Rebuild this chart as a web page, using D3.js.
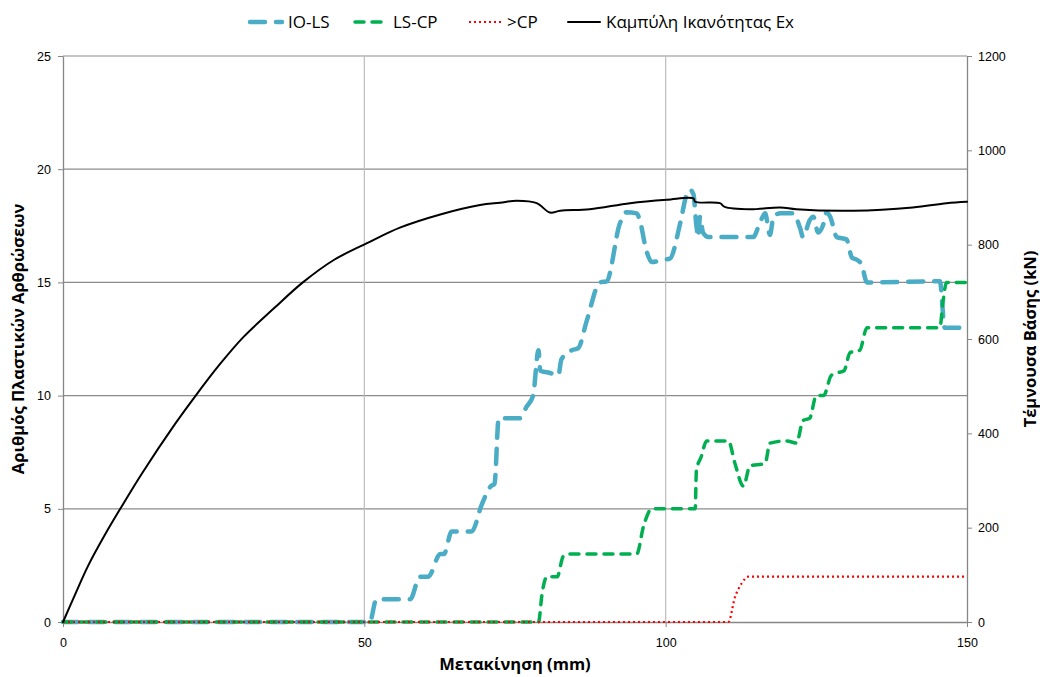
<!DOCTYPE html>
<html>
<head>
<meta charset="utf-8">
<script src="https://cdn.jsdelivr.net/npm/d3@7"></script>
<style>
  html, body { margin: 0; padding: 0; background: #fff; }
  svg { display: block; font-family: "Open Sans", "Noto Sans", sans-serif; }
</style>
</head>
<body>
<svg id="chart" width="1040" height="677"></svg>
<script>
// Plastic hinge counts per performance level (left axis) vs roof displacement (mm)
const ioX = [0, 50.9, 52.0, 57.6, 59.2, 60.6, 62.6, 63.2, 64.5, 67.8, 69.5, 71.0, 71.6, 72.3, 75.8, 76.9, 78.0, 78.9, 79.2, 80.8, 82.2, 82.7, 84.4, 85.5, 86.9, 89.1, 90.2, 92.4, 93.5, 95.2, 95.7, 96.8, 97.7, 99.6, 100.7, 102.4, 103.5, 104.0, 104.6, 105.1, 105.4, 105.7, 106.2, 107.1, 114.5, 115.6, 116.5, 117.3, 117.9, 119.0, 121.2, 122.3, 122.8, 123.9, 124.5, 125.3, 126.2, 126.7, 127.3, 128.4, 130.0, 130.9, 131.7, 132.5, 133.4, 145.5, 146.3, 149.1];
const ioY = [0, 0, 1, 1, 2, 2, 3, 3, 4, 4, 5.2, 6, 6.1, 9, 9, 9.5, 10, 12, 11.1, 11, 10.9, 11.6, 12, 12.1, 13.3, 15, 15.05, 17.6, 18.1, 18.05, 17.75, 16.4, 15.9, 16, 16.05, 17.6, 18.9, 19.1, 18.9, 17.5, 17.0, 17.9, 17.2, 17, 17, 17.6, 18.05, 17.1, 17.9, 18.05, 18.05, 17.4, 17, 17.75, 17.9, 17.2, 17.6, 18.1, 17.9, 17, 16.9, 16.1, 16, 15.8, 15, 15.05, 13, 13];

const lsX = [0, 78.9, 79.5, 80.3, 82.0, 83.0, 83.9, 95.2, 96.3, 97.7, 104.9, 105.1, 105.9, 106.8, 110.4, 111.5, 112.9, 114.0, 116.5, 117.3, 120.1, 121.7, 122.8, 123.9, 125.0, 126.2, 127.5, 128.4, 129.6, 130.6, 132.2, 133.4, 145.5, 146.0, 146.6, 150];
const lsY = [0, 0, 1.27, 2, 2, 2.9, 3, 3, 4.2, 5, 5, 6.7, 7.3, 8, 8, 7, 6, 6.9, 7, 7.9, 8, 7.9, 8.9, 9, 10, 10, 10.9, 11, 11.1, 11.9, 12, 13, 13, 14.1, 15, 15];

const cpX = [0, 110.4, 111.5, 112.6, 113.7, 150];
const cpY = [0, 0, 1.1, 1.7, 2, 2];

// Capacity (pushover) curve: base shear in kN (right axis)
const capX = [0, 2, 4.2, 7, 9.5, 13.1, 18.6, 21.9, 26, 30, 35, 39.8, 45, 50.9, 55.9, 62.6, 69.2, 72.5, 75.3, 78.6, 80.8, 82.5, 87.4, 94.1, 100.2, 104.6, 104.9, 109, 109.8, 114, 119, 121.7, 131.1, 141, 146.6, 150];
const capV = [0, 58, 120, 186, 240, 315, 420, 478, 546, 605, 665, 720, 768, 806, 836, 864, 884, 889, 893, 888, 868, 872, 875, 888, 895, 898, 891, 888, 880, 875, 879, 875, 872, 879, 888, 891];

const xTicks = [0, 50, 100, 150];
const leftTicks = [0, 5, 10, 15, 20, 25];
const rightTicks = [0, 200, 400, 600, 800, 1000, 1200];

const seriesNames = ["IO-LS", "LS-CP", ">CP", "Καμπύλη Ικανότητας Ex"];
const xTitle = "Μετακίνηση (mm)";
const yLeftTitle = "Αριθμός Πλαστικών Αρθρώσεων";
const yRightTitle = "Τέμνουσα Βάσης (kN)";

const svg = d3.select("#chart");
const plot = { left: 63, right: 967, top: 56, bottom: 622 };

const x = d3.scaleLinear().domain([0, 150]).range([plot.left, plot.right]);
const yL = d3.scaleLinear().domain([0, 25]).range([plot.bottom, plot.top]);
const yR = d3.scaleLinear().domain([0, 1200]).range([plot.bottom, plot.top]);

// Gridlines
const grid = svg.append("g");
grid.selectAll("line.h").data(leftTicks.filter(d => d > 0)).join("line")
  .attr("x1", plot.left).attr("x2", plot.right)
  .attr("y1", d => yL(d)).attr("y2", d => yL(d))
  .attr("stroke", "#8c8c8c").attr("stroke-width", 1.2);
grid.selectAll("line.v").data(xTicks.filter(d => d > 0 && d < 150)).join("line")
  .attr("x1", d => x(d)).attr("x2", d => x(d))
  .attr("y1", plot.top).attr("y2", plot.bottom)
  .attr("stroke", "#bcbcbc").attr("stroke-width", 1.2);

// Axes
function styleAxis(g) {
  g.select(".domain").attr("stroke", "#868686").attr("stroke-width", 1.3);
  g.selectAll(".tick line").attr("stroke", "#868686");
  g.selectAll(".tick text").attr("fill", "#000").attr("font-size", 12.5);
}
const fmt = d3.format("d");
svg.append("g").attr("transform", `translate(0,${plot.bottom})`)
  .call(d3.axisBottom(x).tickValues(xTicks).tickFormat(fmt).tickSize(5).tickSizeOuter(0).tickPadding(11))
  .call(styleAxis);
svg.append("g").attr("transform", `translate(${plot.left},0)`)
  .call(d3.axisLeft(yL).tickValues(leftTicks).tickFormat(fmt).tickSize(5).tickSizeOuter(0).tickPadding(7))
  .call(styleAxis);
svg.append("g").attr("transform", `translate(${plot.right},0)`)
  .call(d3.axisRight(yR).tickValues(rightTicks).tickFormat(fmt).tickSize(5).tickSizeOuter(0).tickPadding(6))
  .call(styleAxis);

// Series
function draw(xs, ys, yScale, style, curve) {
  const pts = xs.map((d, i) => [d, ys[i]]);
  const line = d3.line().x(d => x(d[0])).y(d => yScale(d[1])).curve(curve);
  svg.append("path").datum(pts).attr("d", line)
    .attr("fill", "none")
    .attr("stroke", style.color)
    .attr("stroke-width", style.width)
    .attr("stroke-dasharray", style.dash)
    .attr("stroke-linecap", style.cap)
    .attr("stroke-linejoin", "round");
}
const styles = [
  { color: "#4bacc6", width: 4.5, dash: "15,11", cap: "round" },
  { color: "#00b050", width: 3.5, dash: "9,8", cap: "round" },
  { color: "#ff0000", width: 2.2, dash: "2,3", cap: "butt" },
  { color: "#000000", width: 2, dash: null, cap: "round" }
];
draw(ioX, ioY, yL, styles[0], d3.curveMonotoneX);
draw(lsX, lsY, yL, styles[1], d3.curveMonotoneX);
draw(cpX, cpY, yL, styles[2], d3.curveMonotoneX);
draw(capX, capV, yR, styles[3], d3.curveCatmullRom.alpha(0.5));

// Axis titles
svg.append("text").attr("x", (plot.left + plot.right) / 2).attr("y", 670)
  .attr("text-anchor", "middle").attr("font-size", 16.5).attr("font-weight", "bold").text(xTitle);
svg.append("text").attr("transform", `translate(24,${(plot.top + plot.bottom) / 2}) rotate(-90)`)
  .attr("text-anchor", "middle").attr("font-size", 16.5).attr("font-weight", "bold").text(yLeftTitle);
svg.append("text").attr("transform", `translate(1036,${(plot.top + plot.bottom) / 2}) rotate(-90)`)
  .attr("text-anchor", "middle").attr("font-size", 16.5).attr("font-weight", "bold").text(yRightTitle);

// Legend
const legendX = [247, 352, 466, 565];
const legend = svg.append("g");
seriesNames.forEach((name, i) => {
  const s = styles[i];
  legend.append("line")
    .attr("x1", legendX[i] + 3).attr("x2", legendX[i] + 35)
    .attr("y1", 22).attr("y2", 22)
    .attr("stroke", s.color).attr("stroke-width", s.width)
    .attr("stroke-dasharray", s.dash).attr("stroke-linecap", s.cap);
  legend.append("text").attr("x", legendX[i] + 41).attr("y", 28)
    .attr("font-size", 17).attr("fill", "#000").text(name);
});
</script>
</body>
</html>
